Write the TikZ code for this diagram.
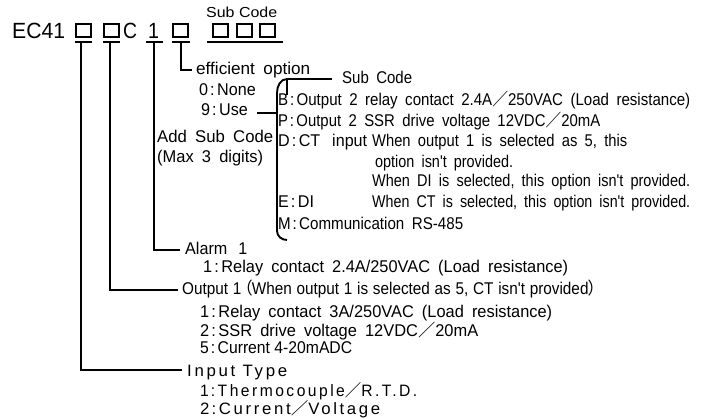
\documentclass[tikz,border=0pt]{standalone}
\usepackage{graphicx}
\usepackage{fontspec}
\setmainfont{Liberation Sans}
\newfontfamily\cjk{Noto Sans CJK JP}
\newfontfamily\condfont[FakeStretch=0.95]{Liberation Sans}
\newfontfamily\spacedfont[LetterSpace=15,FakeStretch=0.95]{Liberation Sans}
\newcommand{\fsl}{{\cjk ／}}
\newcommand{\cl}{\kern2pt:\kern2.5pt}
\newcommand{\wsp}{\spaceskip=8pt plus 1pt minus 1pt\relax}
\newcommand{\bodyfont}{\fontsize{17}{20}\condfont\wsp}
\newcommand{\plainfont}{\fontsize{17}{20}\condfont}
\newcommand{\spfont}{\fontsize{16.5}{19}\spacedfont}
\newcommand{\fw}[2]{\resizebox{#1pt}{\height}{#2}}
\begin{document}
\begin{tikzpicture}[x=1pt,y=-1pt,
  ln/.style={line width=1.9pt},
  bx/.style={line width=1.2pt},
  txt/.style={anchor=base west,inner sep=0pt,font=\bodyfont},
  big/.style={anchor=base west,inner sep=0pt,font=\fontsize{22}{25}\selectfont},
  small/.style={anchor=base west,inner sep=0pt,font=\fontsize{14.5}{17}\condfont},
  sp/.style={anchor=base west,inner sep=0pt,font=\spfont}]
\useasboundingbox (0,0) rectangle (705,419);
% top code
\node[big] (ec) at (12,38.5) {\fw{53}{EC41}};
\node[big] (c) at (123,38.5) {\fw{14}{C}};
\node[big] (one) at (148,38.5) {\fw{11}{1}};
\node[small] (subtop) at (206,18) {\fw{71}{Sub Code}};
\draw[bx] (76,24) rectangle (91,37);
\draw[bx] (104,24) rectangle (119,37);
\draw[bx] (173,24) rectangle (188,37);
\draw[bx] (213,24) rectangle (228,37);
\draw[bx] (237,24) rectangle (252,37);
\draw[bx] (260,24) rectangle (275,37);
\draw[ln] (75,42) -- (92,42);
\draw[ln] (103,42) -- (120,42);
\draw[ln] (146,42) -- (163,42);
\draw[ln] (172,42) -- (190,42);
\draw[ln] (207,42) -- (283,42);
% leaders
\draw[ln] (81,42) -- (81,370) -- (182,370);
\draw[ln] (110,42) -- (110,290) -- (178,290);
\draw[ln] (154,42) -- (154,250) -- (180,250);
\draw[ln] (181,42) -- (181,70) -- (192,70);
% efficient option
\node[txt] (eff) at (196,75) {\fw{114}{efficient option}};
\node[txt] (none) at (199,96) {0\cl None};
\node[txt] (use) at (201,116) {9\cl Use};
\node[txt] (add) at (157,143) {\fw{116}{Add Sub Code}};
\node[txt] (max) at (157,163) {\fw{106}{(Max 3 digits)}};
\draw[ln] (257,113) -- (277,113);
% brace
\draw[ln] (287,79) to[out=180,in=90] (277,93) -- (277,231) to[out=-90,in=180] (287,240);
\draw[ln] (287,79) -- (287,95);
\draw[ln] (287,79) -- (332,79);
\node[txt] (sub) at (342,84) {\fw{70}{Sub Code}};
% options
\node[txt] (b) at (278,106) {\fw{412}{B\cl Output 2 relay contact 2.4A\fsl 250VAC (Load resistance)}};
\node[txt] (p) at (278,127) {\fw{322}{P\cl Output 2 SSR drive voltage 12VDC\fsl 20mA}};
\node[txt] (d) at (278,147) {\fw{89}{D\cl CT\hspace{12pt}input}};
\node[txt] (d1) at (372,147) {\fw{255}{When output 1 is selected as 5, this}};
\node[txt] (d2) at (375,168) {\fw{138}{option isn't provided.}};
\node[txt] (d3) at (372,187) {\fw{318}{When DI is selected, this option isn't provided.}};
\node[txt] (e) at (278,208) {E\cl DI};
\node[txt] (e1) at (372,208) {\fw{318}{When CT is selected, this option isn't provided.}};
\node[txt] (m) at (278,230) {\fw{185}{M\cl Communication RS-485}};
% alarm
\node[txt] (al) at (185,255) {Alarm\hspace{11pt}1};
\node[txt] (al1) at (203,273) {\fw{365}{1\cl Relay contact 2.4A/250VAC (Load resistance)}};
% output
\node[txt] (out) at (182,295) {\fw{413}{\spaceskip=5pt plus 1pt\relax Output 1\kern-5pt{\cjk （}\kern-1pt When output 1 is selected as 5, CT isn't provided\kern-1pt{\cjk ）}\kern-9pt}};
\node[txt] (o1) at (200,318) {\fw{352}{1\cl Relay contact 3A/250VAC (Load resistance)}};
\node[txt] (o2) at (200,337) {\fw{278}{2\cl SSR drive voltage 12VDC\fsl 20mA}};
\node[anchor=base west,inner sep=0pt,font=\plainfont] (o5) at (200,354) {\fw{152}{5\cl Current 4-20mADC}};
% input
\node[sp] (in) at (187,377) {\fw{100}{Input Type}};
\node[sp] (i1) at (200,397) {\fw{217}{1\cl Thermocouple\fsl R.T.D.}};
\node[sp] (i2) at (200,415) {\fw{180}{2\cl Current\fsl Voltage}};
\end{tikzpicture}
\end{document}
